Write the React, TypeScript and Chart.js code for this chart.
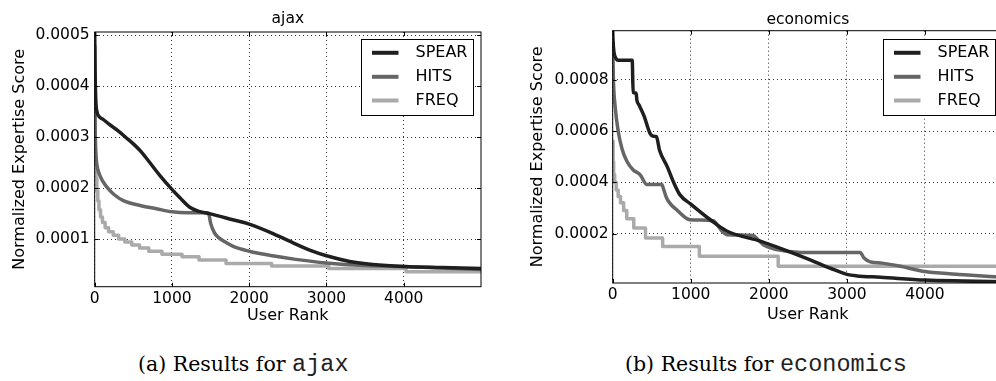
import React, { useEffect, useRef } from "react";
import { Chart, registerables } from "chart.js";

Chart.register(...registerables);

const SANS = "'DejaVu Sans', sans-serif";

// ---------- shared ----------
const SERIES_NAMES = ["SPEAR", "HITS", "FREQ"];
const SERIES_COLORS = ["#1f1f1f", "#666666", "#aaaaaa"];
const X_LABEL = "User Rank";
const Y_LABEL = "Normalized Expertise Score";
const X_TICKS = [0, 1000, 2000, 3000, 4000];

// ---------- (a) ajax : scores in units of 1e-6 ----------
const AJAX_SPEAR_RANK = [0, 5, 15, 30, 60, 100, 200, 300, 400, 500, 600, 700, 850, 1000, 1100, 1230, 1350, 1500, 1800, 2000, 2300, 2500, 2800, 3000, 3300, 3600, 4000, 4500, 5000];
const AJAX_SPEAR_SCORE = [505, 430, 370, 350, 340, 336, 324, 313, 300, 287, 272, 253, 224, 198, 182, 163, 155, 150, 138, 130, 112, 98, 78, 68, 57, 51, 47, 45, 43];
const AJAX_HITS_RANK = [0, 5, 15, 30, 60, 100, 150, 250, 370, 600, 800, 1000, 1200, 1450, 1480, 1500, 1550, 1600, 1700, 1800, 2000, 2300, 2600, 3000, 3500, 4000, 4500, 5000];
const AJAX_HITS_SCORE = [480, 330, 270, 245, 228, 215, 204, 188, 176, 166, 160, 154, 152, 152, 148, 132, 113, 104, 94, 86, 77, 68, 61, 54, 49, 47, 44, 41];
const AJAX_FREQ_RANK = [0, 4, 10, 18, 28, 40, 55, 75, 100, 135, 180, 240, 310, 390, 480, 580, 700, 870, 1130, 1350, 1700, 2290, 3030, 4030, 5000];
const AJAX_FREQ_SCORE = [350, 300, 255, 220, 195, 175, 158, 144, 133, 123, 115, 108, 101, 95, 89, 83, 77, 71, 66, 60, 53, 48, 43, 37, 37];
const AJAX_Y_TICKS = [0.0001, 0.0002, 0.0003, 0.0004, 0.0005];

// ---------- (b) economics : scores in units of 1e-6 ----------
const ECON_SPEAR_RANK = [0, 5, 15, 30, 70, 250, 262, 300, 310, 340, 400, 480, 520, 560, 600, 700, 780, 860, 1000, 1250, 1460, 1900, 2200, 2530, 2790, 3000, 3130, 3430, 4000, 4500, 5000];
const ECON_SPEAR_SCORE = [990, 950, 910, 890, 876, 876, 750, 748, 720, 700, 660, 590, 580, 578, 525, 460, 400, 352, 315, 254, 210, 170, 137, 98, 65, 41, 35, 30, 19, 15, 12];
const ECON_HITS_RANK = [0, 8, 30, 70, 120, 180, 260, 350, 440, 630, 650, 690, 750, 820, 900, 990, 1290, 1330, 1400, 1460, 1800, 1850, 1930, 2190, 2500, 3170, 3220, 3300, 3450, 3700, 4000, 4500, 5000];
const ECON_HITS_SCORE = [950, 810, 700, 600, 530, 483, 449, 430, 391, 391, 375, 339, 312, 293, 270, 254, 250, 238, 210, 196, 193, 180, 157, 133, 126, 126, 105, 90, 85, 72, 52, 40, 30];
const ECON_FREQ_RANK = [0, 5, 12, 25, 45, 70, 100, 140, 180, 270, 420, 640, 1110, 2120, 5000];
const ECON_FREQ_SCORE = [560, 480, 430, 400, 370, 345, 320, 290, 258, 222, 183, 150, 112, 73, 73];
const ECON_Y_TICKS = [0.0002, 0.0004, 0.0006, 0.0008];

const UNIT = 1e-6;

type Panel = {
  title: string;
  caption: string;
  captionMono: string;
  left: number;
  w: number;
  h: number;
  padTop: number;
  padRight: number;
  yAxisW: number;
  xAxisH: number;
  yTitlePad: number;
  xTitlePad: number;
  yTickPad: number;
  yMin: number;
  yMax: number;
  yTicks: number[];
  titleBaseline: number;
  legendTop: number;
  legendRight: number;
  ranks: number[][];
  scores: number[][];
};

const PANELS: Panel[] = [
  {
    title: "ajax",
    caption: "(a) Results for ",
    captionMono: "ajax",
    left: 0,
    w: 500,
    h: 330,
    padTop: 32,
    padRight: 19,
    yAxisW: 94.7,
    xAxisH: 43.3,
    yTitlePad: 10.4,
    xTitlePad: 4.9,
    yTickPad: 5,
    yMin: 0.0000075,
    yMax: 0.000506,
    yTicks: AJAX_Y_TICKS,
    titleBaseline: 22.5,
    legendTop: 7,
    legendRight: 8,
    ranks: [AJAX_SPEAR_RANK, AJAX_HITS_RANK, AJAX_FREQ_RANK],
    scores: [AJAX_SPEAR_SCORE, AJAX_HITS_SCORE, AJAX_FREQ_SCORE],
  },
  {
    title: "economics",
    caption: "(b) Results for ",
    captionMono: "economics",
    left: 500,
    w: 503,
    h: 330,
    padTop: 30.7,
    padRight: 0,
    yAxisW: 112.7,
    xAxisH: 47,
    yTitlePad: 28.4,
    xTitlePad: 5.9,
    yTickPad: 4,
    yMin: 0.0000075,
    yMax: 0.000991,
    yTicks: ECON_Y_TICKS,
    titleBaseline: 24,
    legendTop: 8,
    legendRight: 8,
    ranks: [ECON_SPEAR_RANK, ECON_HITS_RANK, ECON_FREQ_RANK],
    scores: [ECON_SPEAR_SCORE, ECON_HITS_SCORE, ECON_FREQ_SCORE],
  },
];

const decoPlugin = {
  id: "deco",
  afterDraw(chart: any, _args: any, opts: any) {
    const { ctx, chartArea: a } = chart;
    const xs = chart.scales.x;
    const ys = chart.scales.y;
    ctx.save();
    // frame
    ctx.strokeStyle = "#000";
    ctx.lineWidth = 1;
    ctx.setLineDash([]);
    ctx.strokeRect(a.left, a.top, a.right - a.left, a.bottom - a.top);
    // inward ticks on all four sides
    ctx.beginPath();
    for (const t of xs.ticks) {
      const px = Math.round(xs.getPixelForValue(t.value)) + 0.5;
      ctx.moveTo(px, a.bottom);
      ctx.lineTo(px, a.bottom - 4);
      ctx.moveTo(px, a.top);
      ctx.lineTo(px, a.top + 4);
    }
    for (const t of ys.ticks) {
      const py = Math.round(ys.getPixelForValue(t.value)) + 0.5;
      ctx.moveTo(a.left, py);
      ctx.lineTo(a.left + 4, py);
      ctx.moveTo(a.right, py);
      ctx.lineTo(a.right - 4, py);
    }
    ctx.stroke();
    // title
    ctx.fillStyle = "#000";
    ctx.font = `15.5px ${SANS}`;
    ctx.textAlign = "center";
    ctx.textBaseline = "alphabetic";
    ctx.fillText(opts.title, (a.left + a.right) / 2, opts.titleBaseline);
    // legend
    const bw = 112;
    const bh = 76;
    const bx = Math.round(a.right - opts.legendRight - bw) + 0.5;
    const by = Math.round(a.top + opts.legendTop) + 0.5;
    ctx.fillStyle = "#fff";
    ctx.fillRect(bx, by, bw, bh);
    ctx.strokeStyle = "#000";
    ctx.lineWidth = 1;
    ctx.strokeRect(bx, by, bw, bh);
    const rows = [13.3, 37.3, 61];
    chart.data.datasets.forEach((ds: any, i: number) => {
      const y = by + rows[i];
      ctx.strokeStyle = ds.borderColor;
      ctx.lineWidth = 4;
      ctx.beginPath();
      ctx.moveTo(bx + 10.5, y);
      ctx.lineTo(bx + 37, y);
      ctx.stroke();
      ctx.fillStyle = "#000";
      ctx.font = `16px ${SANS}`;
      ctx.textAlign = "left";
      ctx.textBaseline = "middle";
      ctx.fillText(ds.label, bx + 54, y + 0.5);
    });
    ctx.restore();
  },
};

function PanelChart({ p }: { p: Panel }) {
  const ref = useRef<HTMLCanvasElement>(null);
  useEffect(() => {
    const datasets = p.ranks.map((xs, i) => ({
      label: SERIES_NAMES[i],
      data: xs.map((x, j) => ({ x, y: p.scores[i][j] * UNIT })),
      borderColor: SERIES_COLORS[i],
      backgroundColor: SERIES_COLORS[i],
      borderWidth: 3.5,
      pointRadius: 0,
      fill: false,
      stepped: i === 2 ? ("before" as const) : false,
      cubicInterpolationMode: i === 2 ? ("default" as const) : ("monotone" as const),
      borderJoinStyle: "round" as const,
      order: i === 2 ? 3 : i === 1 ? 2 : 1,
    }));
    const chart = new Chart(ref.current as HTMLCanvasElement, {
      type: "line",
      data: { datasets },
      plugins: [decoPlugin],
      options: {
        responsive: false,
        animation: false,
        devicePixelRatio: 1,
        layout: { padding: { left: 0, top: p.padTop, right: p.padRight, bottom: 0 } },
        plugins: {
          legend: { display: false },
          tooltip: { enabled: false },
          title: { display: false },
          // @ts-ignore
          deco: {
            title: p.title,
            titleBaseline: p.titleBaseline,
            legendTop: p.legendTop,
            legendRight: p.legendRight,
          },
        },
        scales: {
          x: {
            type: "linear",
            min: 0,
            max: 5000,
            afterBuildTicks: (s: any) => {
              s.ticks = X_TICKS.map((v) => ({ value: v }));
            },
            afterFit: (s: any) => {
              s.height = p.xAxisH;
            },
            grid: { color: "rgba(0,0,0,0.8)", lineWidth: 1, drawTicks: false },
            border: { display: false, dash: [1, 3] },
            ticks: {
              color: "#000",
              font: { family: SANS, size: 15.5 },
              padding: 2.5,
              maxRotation: 0,
              autoSkip: false,
              callback: (v: any) => String(v),
            },
            title: {
              display: true,
              text: X_LABEL,
              color: "#000",
              font: { family: SANS, size: 16 },
              padding: { top: 0, bottom: p.xTitlePad },
            },
          },
          y: {
            type: "linear",
            min: p.yMin,
            max: p.yMax,
            afterBuildTicks: (s: any) => {
              s.ticks = p.yTicks.map((v) => ({ value: v }));
            },
            afterFit: (s: any) => {
              s.width = p.yAxisW;
            },
            grid: { color: "rgba(0,0,0,0.8)", lineWidth: 1, drawTicks: false },
            border: { display: false, dash: [1, 3] },
            ticks: {
              color: "#000",
              font: { family: SANS, size: 15.5 },
              padding: p.yTickPad,
              autoSkip: false,
              callback: (v: any) => Number(v).toFixed(4),
            },
            title: {
              display: true,
              text: Y_LABEL,
              color: "#000",
              font: { family: SANS, size: 16 },
              padding: { top: p.yTitlePad, bottom: 0 },
            },
          },
        },
      },
    });
    return () => chart.destroy();
  }, [p]);
  return (
    <canvas
      ref={ref}
      width={p.w}
      height={p.h}
      style={{ position: "absolute", left: p.left, top: 0, width: p.w, height: p.h }}
    />
  );
}

const CAPTION_LEFTS = [138, 625];

export default function App() {
  return (
    <div
      style={{
        position: "absolute",
        left: 0,
        top: 0,
        width: 996,
        height: 381,
        overflow: "hidden",
        background: "#fff",
      }}
    >
      {PANELS.map((p) => (
        <PanelChart key={p.title} p={p} />
      ))}
      {PANELS.map((p, i) => (
        <div
          key={"cap" + i}
          style={{
            position: "absolute",
            left: CAPTION_LEFTS[i],
            top: 352,
            whiteSpace: "nowrap",
            lineHeight: "24px",
            height: 24,
            color: "#000",
          }}
        >
          <span style={{ fontFamily: "'DejaVu Serif', serif", fontSize: 20.5 }}>{p.caption}</span>
          <span style={{ fontFamily: "'Liberation Mono', monospace", fontSize: 23.5, color: "#222" }}>{p.captionMono}</span>
        </div>
      ))}
    </div>
  );
}
